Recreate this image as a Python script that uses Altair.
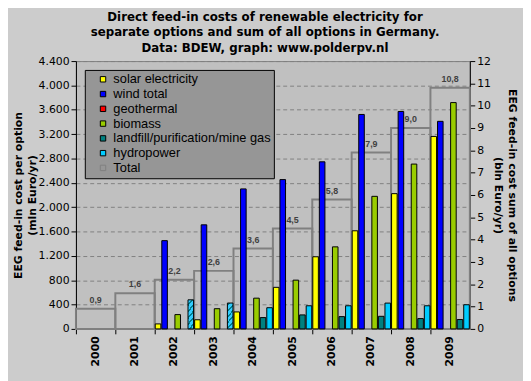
import altair as alt
import pandas as pd

years = ["2000", "2001", "2002", "2003", "2004", "2005", "2006", "2007", "2008", "2009"]
series = ["solar electricity", "wind total", "geothermal", "biomass",
          "landfill/purification/mine gas", "hydropower"]
colors = ["#ffff00", "#0000ff", "#ff0000", "#99cc00", "#008080", "#00ccff"]

# mln Euro/yr per option
solar = [None, None, 82, 150, 279, 683, 1185, 1612, 2222, 3162]
wind = [None, None, 1450, 1710, 2300, 2453, 2745, 3523, 3572, 3410]
geothermal = [None, None, None, None, None, None, None, None, None, None]
biomass = [None, None, 235, 332, 505, 801, 1348, 2178, 2708, 3718]
landfill = [None, None, None, None, 186, 230, 202, 207, 170, 154]
hydro = [None, None, None, None, 348, 380, 380, 424, 380, 397]
# 2002-2003: landfill gas + hydropower combined (hatched)
combined_years = ["2002", "2003"]
combined = [478, 425]
# bln Euro/yr, sum of all options
totals = [0.9, 1.6, 2.2, 2.6, 3.6, 4.5, 5.8, 7.9, 9.0, 10.8]

left_ticks = [0, 400, 800, 1200, 1600, 2000, 2400, 2800, 3200, 3600, 4000, 4400]
right_ticks = [0, 1, 2, 3, 4, 5, 6, 7, 8, 9, 10, 11, 12]

rows = []
for s, vals in zip(series, [solar, wind, geothermal, biomass, landfill, hydro]):
    for y, v in zip(years, vals):
        if v is not None:
            rows.append({"year": y, "series": s, "value": v})
bars_df = pd.DataFrame(rows)
comb_df = pd.DataFrame({"year": combined_years, "series": "hydropower", "value": combined})
tot_df = pd.DataFrame({"year": years, "total": totals,
                       "label": [f"{t:.1f}".replace(".", ",") for t in totals]})

legend_domain = series + ["Total"]
fill_range = colors + ["#969696"]
stroke_range = ["#000000"] * 6 + ["#808080"]

x_axis = alt.Axis(title=None, labelAngle=270, labelFont="DejaVu Sans", labelFontWeight="bold",
                  labelFontSize=11, bandPosition=0, labelOffset=0, tickSize=5,
                  labelPadding=2, domainColor="black", tickColor="black")
x_enc = alt.X("year:N", sort=years,
              scale=alt.Scale(domain=years, paddingInner=0, paddingOuter=0), axis=x_axis)
xoff = alt.XOffset("series:N", scale=alt.Scale(domain=series, paddingInner=0.15, paddingOuter=0.08))

left_scale = alt.Scale(domain=[0, 4400], nice=False)
right_scale = alt.Scale(domain=[0, 12], nice=False)

left_axis = alt.Axis(orient="left", values=left_ticks, tickCount=30,
                     title=["EEG feed-in cost per option", "(mln Euro/yr)"],
                     labelExpr="replace(format(datum.value, ','), ',', '.')",
                     labelOverlap=False,
                     grid=True, gridDash=[4, 3], gridColor="#808080", tickSize=5,
                     titlePadding=1, titleLineHeight=14)

right_axis = alt.Axis(orient="right", values=right_ticks, tickCount=30, grid=False,
                      labelOverlap=False, format="d",
                      title=["EEG feed-in cost sum of all options", "(bln Euro/yr)"],
                      tickSize=5, titlePadding=2, titleLineHeight=14)

tot_rect = alt.Chart(tot_df).mark_bar(fill="transparent", stroke="#808080", strokeWidth=2).encode(
    x=x_enc, y=alt.Y("total:Q", scale=right_scale, axis=None)
)

bars = alt.Chart(bars_df).mark_bar(strokeWidth=1).encode(
    x=x_enc,
    xOffset=xoff,
    y=alt.Y("value:Q", stack=None, scale=left_scale, axis=left_axis),
    fill=alt.Fill("series:N", scale=alt.Scale(domain=legend_domain, range=fill_range),
                  legend=alt.Legend(title=None)),
    stroke=alt.Stroke("series:N", scale=alt.Scale(domain=legend_domain, range=stroke_range),
                      legend=alt.Legend(title=None)),
)

stops = []
n = 9
for i in range(n):
    a = i / n
    b = (i + 0.65) / n
    c = (i + 1) / n
    stops += [alt.GradientStop(color="#33ccff", offset=a), alt.GradientStop(color="#33ccff", offset=b),
              alt.GradientStop(color="#007f8f", offset=b), alt.GradientStop(color="#007f8f", offset=c)]
hatch = alt.Gradient(gradient="linear", stops=stops, x1=1, y1=0, x2=0, y2=1)

comb = alt.Chart(comb_df).mark_bar(stroke="black", strokeWidth=1, fill=hatch).encode(
    x=x_enc, xOffset=xoff, y=alt.Y("value:Q", stack=None, scale=left_scale, axis=None)
)

tot_text = alt.Chart(tot_df).mark_text(font="Liberation Sans", fontWeight="bold", fontSize=9,
                                       color="#404040", baseline="alphabetic", dy=-6).encode(
    x=x_enc, y=alt.Y("total:Q", scale=right_scale, axis=right_axis), text="label:N"
)

chart = alt.layer(tot_rect, bars, comb, tot_text).resolve_scale(y="independent").properties(
    width=400, height=272,
    autosize=alt.AutoSizeParams(type="none"),
    padding={"left": 69, "top": 51, "right": 54, "bottom": 50},
    title=alt.TitleParams(
        text=["Direct feed-in costs of renewable electricity for",
              "separate options and sum of all options in Germany.",
              "Data: BDEW, graph: www.polderpv.nl"],
        font="DejaVu Sans", fontSize=12, fontWeight="bold", color="black",
        anchor="middle", offset=0, lineHeight=16, dx=-8),
).configure(background="#cccccc").configure_view(
    fill="#c0c0c0", stroke="#808080", strokeWidth=1
).configure_axis(
    labelFont="DejaVu Sans", labelFontSize=11, labelColor="black",
    titleFont="DejaVu Sans", titleFontSize=11, titleFontWeight="bold", titleColor="black",
    tickColor="black", domainColor="black"
).configure_legend(
    orient="none", legendX=9, legendY=9, fillColor="#969696", strokeColor="black",
    padding=3, rowPadding=1, symbolSize=30, symbolStrokeWidth=1, symbolType="square",
    labelFont="Liberation Sans", labelFontSize=13, labelColor="black", labelOffset=4,
    symbolOffset=9, labelLimit=300
)

chart.save("out.html", embed_options={"renderer": "svg", "actions": False})
